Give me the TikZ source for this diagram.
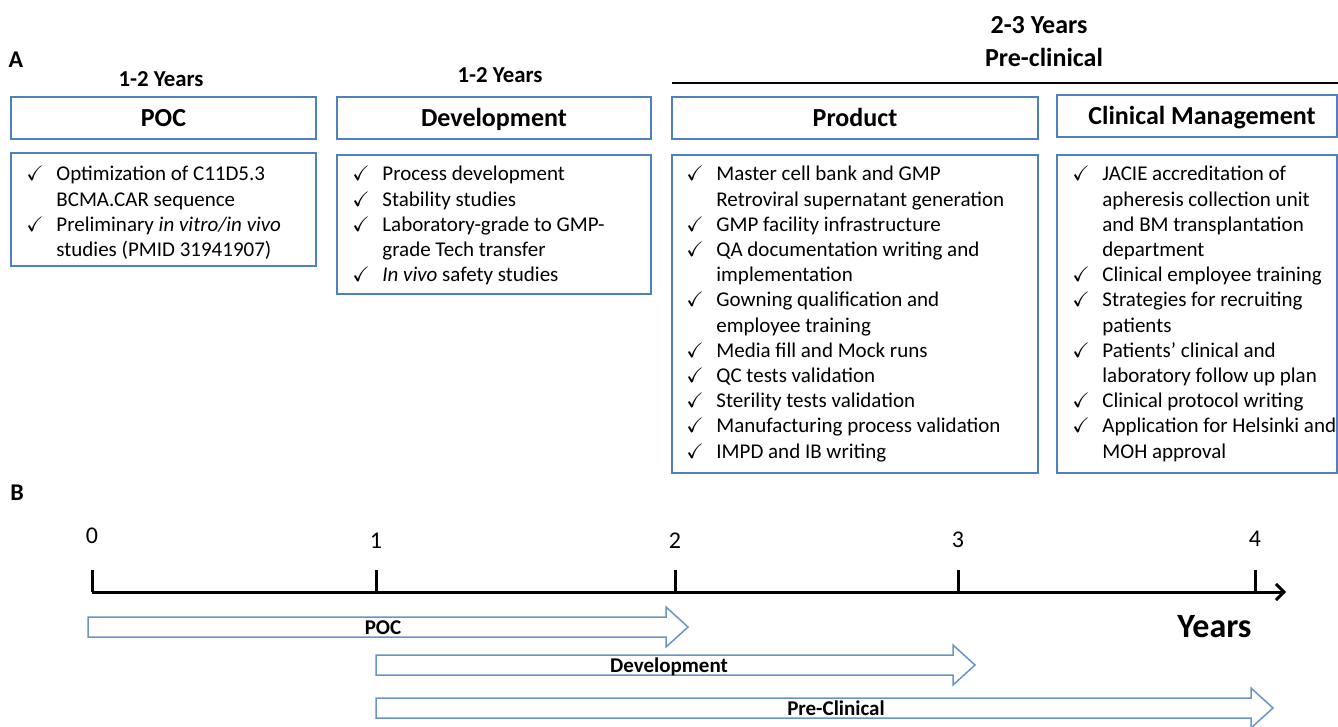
\documentclass[tikz,border=0pt]{standalone}
\usepackage{amssymb}
\usepackage{fontspec}
\setmainfont{Carlito}
\usetikzlibrary{arrows.meta}
\definecolor{boxblue}{RGB}{79,129,189}
\newcommand{\ck}{\makebox[15pt][l]{$\checkmark$}}
\newcommand{\ind}{\hspace*{15pt}}

\begin{document}
\begin{tikzpicture}[x=0.5pt,y=-0.5pt,
  boxline/.style={draw=boxblue,line width=1pt},
  barline/.style={draw=boxblue!85,line width=0.75pt,fill=white},
  headtxt/.style={font=\fontsize{13}{15}\selectfont\bfseries,anchor=base,inner sep=0pt},
  yearlbl/.style={font=\fontsize{11.4}{13}\selectfont\bfseries,anchor=base,inner sep=0pt},
  partlbl/.style={font=\fontsize{12}{14}\selectfont\bfseries,anchor=base,inner sep=0pt},
  listtxt/.style={font=\fontsize{10.5}{12.6}\selectfont,align=left,anchor=north west,inner sep=0pt},
  barlabel/.style={font=\fontsize{10.5}{12}\selectfont\bfseries,anchor=base,inner sep=0pt},
  ticklbl/.style={font=\fontsize{12}{14}\selectfont,anchor=base,inner sep=0pt},
  axis/.style={line width=1.5pt}]
\useasboundingbox (0,0) rectangle (1338,727);

\node[partlbl] (partA) at (16,68) {A};
\node[partlbl] (partB) at (17,500) {B};

\node[yearlbl] (pocyrs) at (161,87) {1-2 Years};
\node[yearlbl] (devyrs) at (500,83) {1-2 Years};
\node[headtxt] (preyrs) at (1039,34) {2-3 Years};
\node[headtxt] (prelbl) at (1044,67) {Pre-clinical};
\coordinate (rulel) at (672,83);
\coordinate (ruler) at (1338,83);
\draw[line width=1pt] (rulel) -- (ruler);

\draw[boxline] (11,97) rectangle (316,139);
\draw[boxline] (337,97) rectangle (651,139);
\draw[boxline] (672,97) rectangle (1038,139);
\draw[boxline] (1057,95) rectangle (1337,137);
\draw[boxline] (11,153) rectangle (316,266);
\draw[boxline] (337,155) rectangle (651,294);
\draw[boxline] (672,155) rectangle (1038,473);
\draw[boxline] (1057,155) rectangle (1337,473);

\node[headtxt] (poc) at (163.5,127) {POC};
\node[headtxt] (dev) at (494,127) {Development};
\node[headtxt] (prod) at (855,127) {Product};
\node[headtxt] (clin) at (1202,125) {Clinical Management};

\node[listtxt] (poclist) at (26,166) {\ck Optimization of C11D5.3\\
\ind BCMA.CAR sequence\\
\ck Preliminary \textit{in vitro/in vivo}\\
\ind studies (PMID 31941907)};
\node[listtxt] (devlist) at (352,166) {\ck Process development\\
\ck Stability studies\\
\ck Laboratory-grade to GMP-\\
\ind grade Tech transfer\\
\ck \textit{In vivo} safety studies};
\node[listtxt] (prodlist) at (686,166) {\ck Master cell bank and GMP\\
\ind Retroviral supernatant generation\\
\ck GMP facility infrastructure\\
\ck QA documentation writing and\\
\ind implementation\\
\ck Gowning qualification and\\
\ind employee training\\
\ck Media fill and Mock runs\\
\ck QC tests validation\\
\ck Sterility tests validation\\
\ck Manufacturing process validation\\
\ck IMPD and IB writing};
\node[listtxt] (clinlist) at (1072,166) {\ck JACIE accreditation of\\
\ind apheresis collection unit\\
\ind and BM transplantation\\
\ind department\\
\ck Clinical employee training\\
\ck Strategies for recruiting\\
\ind patients\\
\ck Patients’ clinical and\\
\ind laboratory follow up plan\\
\ck Clinical protocol writing\\
\ck Application for Helsinki and\\
\ind MOH approval};

\foreach \x/\n/\ly in {92/0/543, 376/1/548, 675/2/548, 958/3/547, 1255/4/546}
{
	\coordinate (t\n) at (\x,592);
	\draw[axis] (t\n) -- ++(0,-22);
	\node[ticklbl] (num\n) at (\x,\ly) {\n};
}
\coordinate (tend) at (1286,592);
\draw[axis,-{Straight Barb[length=4pt,width=8pt]}] (t0) -- (tend);
\node[font=\fontsize{17}{20}\selectfont\bfseries,anchor=base,inner sep=0pt] (years) at (1214.5,637) {Years};

\foreach \xa/\xb/\yc/\lx/\lbl/\nm in {88/688/627/383/POC/pocbar, 376/975/665/669/Development/devbar, 376/1273/708/836/Pre-Clinical/prebar}
{
	\draw[barline] (\xa,\yc-10) -- (\xb-22,\yc-10) -- (\xb-22,\yc-20) -- (\xb,\yc) -- (\xb-22,\yc+20) -- (\xb-22,\yc+10) -- (\xa,\yc+10) -- cycle;
	\node[barlabel] (\nm) at (\lx,\yc+7) {\lbl};
}
\end{tikzpicture}
\end{document}
